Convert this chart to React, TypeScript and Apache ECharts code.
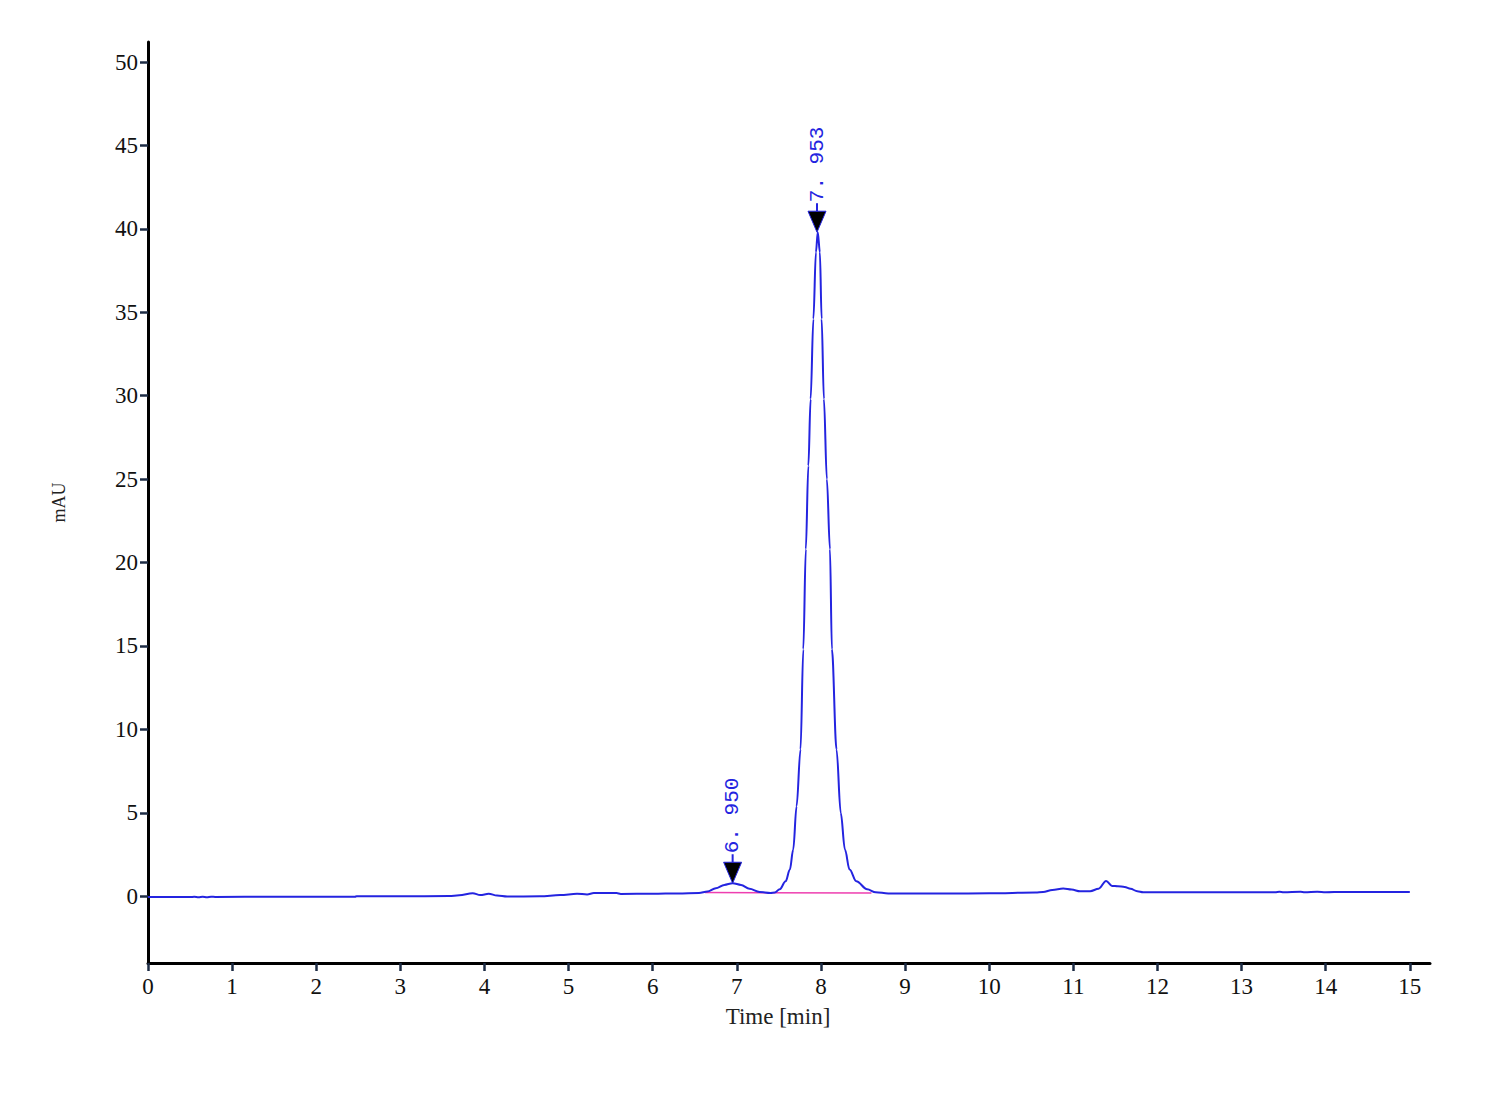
import React, { useEffect, useRef } from "react";
import * as echarts from "echarts";

const times = [
  0.0, 0.5, 0.55, 0.6, 0.65, 0.7, 0.75, 0.8, 1.5, 2.46, 2.48, 3.0, 3.58, 3.7, 3.86, 3.95, 4.05, 4.15, 4.27,
  4.66, 4.9, 5.1, 5.22, 5.3, 5.57, 5.62, 6.0, 6.3, 6.55, 6.65, 6.75, 6.85, 6.95, 7.05, 7.15, 7.27, 7.4,
  7.45, 7.51, 7.58, 7.63, 7.67, 7.71, 7.757, 7.79, 7.82, 7.85, 7.877, 7.91, 7.94, 7.962, 7.987, 8.008,
  8.035, 8.07, 8.107, 8.13, 8.185, 8.235, 8.285, 8.34, 8.42, 8.55, 8.65, 8.8, 9.5, 10.0, 10.55, 10.64,
  10.75, 10.88, 10.98, 11.08, 11.2, 11.3, 11.39, 11.46, 11.53, 11.61, 11.68, 11.76, 11.83, 12.5, 13.0,
  13.4, 13.45, 13.5, 13.7, 13.75, 13.9, 14.0, 14.2, 14.3, 14.6, 15.0,
];
const absorbance = [
  -0.05, -0.05, -0.03, -0.06, -0.03, -0.06, -0.03, -0.04, -0.03, -0.03, 0.0, 0.0, 0.01, 0.06, 0.18, 0.07,
  0.15, 0.04, -0.02, 0.0, 0.07, 0.15, 0.11, 0.19, 0.19, 0.14, 0.15, 0.17, 0.2, 0.28, 0.48, 0.68, 0.78,
  0.68, 0.45, 0.26, 0.2, 0.22, 0.42, 0.9, 1.6, 2.8, 5.4, 8.8, 14.8, 20.8, 25.8, 29.8, 34.6, 38.6, 39.8,
  38.6, 34.6, 29.8, 25.0, 20.8, 14.8, 8.8, 5.0, 2.8, 1.6, 0.9, 0.42, 0.24, 0.17, 0.16, 0.18, 0.22, 0.25,
  0.38, 0.46, 0.4, 0.3, 0.3, 0.45, 0.92, 0.62, 0.6, 0.56, 0.45, 0.3, 0.24, 0.24, 0.24, 0.24, 0.27, 0.24,
  0.27, 0.24, 0.27, 0.24, 0.26, 0.25, 0.25, 0.26,
];

const baselineTimes = [6.62, 8.6];
const baselineValues = [0.22, 0.2];

const peakTimes = [6.95, 7.953];
const peakHeights = [0.78, 39.8];
const peakLabels = ["6. 950", "7. 953"];

const xTicks = [0, 1, 2, 3, 4, 5, 6, 7, 8, 9, 10, 11, 12, 13, 14, 15];
const yTicks = [0, 5, 10, 15, 20, 25, 30, 35, 40, 45, 50];

const BLUE = "#2424e0";

export default function App() {
  const ref = useRef<HTMLDivElement>(null);
  useEffect(() => {
    if (!ref.current) return;
    const chart = echarts.init(ref.current, null, { renderer: "svg" });
    const font = "Liberation Serif";
    chart.setOption({
      animation: false,
      backgroundColor: "#ffffff",
      grid: { left: 148, right: 70, top: 42, bottom: 137, containLabel: false },
      xAxis: {
        type: "value",
        min: 0,
        max: 15.24,
        name: "Time [min]",
        nameLocation: "middle",
        nameGap: 42,
        nameTextStyle: { fontFamily: font, fontSize: 23, color: "#222", padding: [0, 22, 0, 0] },
        axisLine: { show: true, onZero: false, lineStyle: { color: "#000", width: 3 } },
        axisTick: { show: true, length: 8, customValues: xTicks, lineStyle: { color: "#1c2b44", width: 2.5 } },
        axisLabel: { customValues: xTicks, fontFamily: font, fontSize: 23, color: "#111", margin: 12 },
        splitLine: { show: false },
      },
      yAxis: {
        type: "value",
        min: -4,
        max: 51.2,
        name: "mAU",
        nameLocation: "middle",
        nameGap: 80,
        nameRotate: 90,
        nameTextStyle: { fontFamily: font, fontSize: 18, color: "#222" },
        axisLine: { show: true, onZero: false, lineStyle: { color: "#000", width: 3 } },
        axisTick: { show: true, length: 8, customValues: yTicks, lineStyle: { color: "#1c2b44", width: 2.5 } },
        axisLabel: { customValues: yTicks, fontFamily: font, fontSize: 23, color: "#111", margin: 10 },
        splitLine: { show: false },
      },
      series: [
        {
          type: "line",
          data: baselineTimes.map((t, i) => [t, baselineValues[i]]),
          showSymbol: false,
          lineStyle: { color: "#ee3fb0", width: 1.5 },
          z: 2,
        },
        {
          type: "line",
          data: times.map((t, i) => [t, absorbance[i]]),
          showSymbol: false,
          smooth: 0.35,
          smoothMonotone: "x",
          lineStyle: { color: BLUE, width: 2 },
          z: 3,
        },
        {
          type: "custom",
          z: 4,
          data: peakTimes.map((t, i) => [t, peakHeights[i]]),
          renderItem: (params: any, api: any) => {
            const p = api.coord([api.value(0), api.value(1)]);
            const x0 = p[0];
            const y0 = p[1];
            const label = peakLabels[params.dataIndex];
            return {
              type: "group",
              children: [
                {
                  type: "polygon",
                  shape: { points: [[x0, y0], [x0 - 9, y0 - 21], [x0 + 9, y0 - 21]] },
                  style: { fill: "#000", stroke: BLUE, lineWidth: 1 },
                },
                {
                  type: "line",
                  shape: { x1: x0, y1: y0 - 21, x2: x0, y2: y0 - 29 },
                  style: { stroke: BLUE, lineWidth: 2 },
                },
                {
                  type: "text",
                  x: x0,
                  y: y0 - 30,
                  rotation: Math.PI / 2,
                  style: {
                    text: label,
                    fill: BLUE,
                    font: '21px "Liberation Mono"',
                    align: "left",
                    verticalAlign: "middle",
                  },
                },
              ],
            };
          },
        },
      ],
    });
    return () => chart.dispose();
  }, []);
  return (
    <div
      ref={ref}
      style={{ position: "fixed", left: 0, top: 0, width: 1500, height: 1100 }}
    />
  );
}
